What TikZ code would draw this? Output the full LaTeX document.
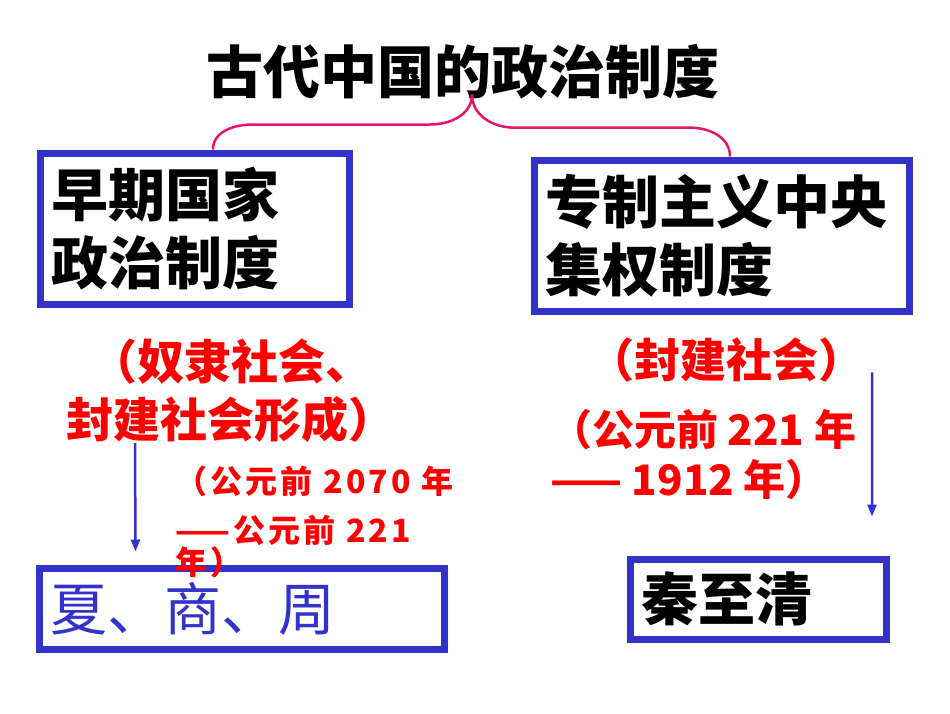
\documentclass[tikz,border=0pt]{standalone}
\usepackage{fontspec}
\setmainfont{Noto Sans CJK SC}
\newfontfamily\datefont{Noto Sans CJK SC}[LetterSpace=10]
\usetikzlibrary{arrows.meta}
\definecolor{boxblue}{RGB}{51,51,204}
\definecolor{bracered}{RGB}{230,20,110}

\begin{document}
\begin{tikzpicture}[x=1pt,y=-1pt,
    frame/.style={draw=boxblue,line width=7pt,inner xsep=11pt,inner ysep=0pt,align=left},
    heading/.style={font=\fontsize{57}{68}\selectfont\bfseries},
    note/.style={text=red,inner sep=0pt},
    flow/.style={draw=boxblue,line width=2.5pt,-{Triangle[length=12pt,width=9pt]}},
    brace/.style={draw=bracered,line width=2.5pt}]
    \useasboundingbox (0,0) rectangle (950,713);
    \node[heading,inner sep=0pt] (title) at (463,72) {古代中国的政治制度};
    \node[frame,heading,text width=287pt,minimum height=151pt] (early) at (194.5,228.5) {早期国家\\政治制度};
    \node[frame,heading,text width=353pt,minimum height=151pt] (central) at (721.5,235.5) {专制主义中央\\集权制度};
    % the brace from the title down to both boxes
    \coordinate (tip) at ([shift={(9,-5)}]title.south);
    \draw[brace] ([xshift=18.5pt]early.north) to[out=90,in=180] ++(40,-25) -- ++(177,0) to[out=0,in=-90] (tip);
    \draw[brace] (tip) to[out=-90,in=180] ++(42,33) -- ++(176,0) to[out=0,in=90] ([xshift=8.5pt]central.north);
    \node[note,align=center,font=\fontsize{47}{58}\selectfont\bfseries] (slave) at (231,391) {（奴隶社会、\\封建社会形成）};
    \node[note,align=left,anchor=north west,font=\fontsize{32}{49}\selectfont\datefont\bfseries] (earlydate) at (175,466) {（公元前 2070 年\\——公元前 221\\[-17pt]年）};
    \node[note,font=\fontsize{46}{58}\selectfont\bfseries] (feudal) at (726,360) {（封建社会）};
    \node[note,align=left,anchor=north west,font=\fontsize{42}{50}\selectfont\bfseries] (latedate) at (550,409) {（公元前 221 年\\—— 1912 年）};
    \node[frame,text=boxblue,font=\fontsize{57}{68}\selectfont,text width=383pt,minimum height=81pt] (dynasty) at (241.5,608.5) {夏、商、周};
    \node[frame,heading,text width=234pt,minimum height=80pt] (qin) at (758,599) {秦至清};
    \draw[flow] ([xshift=-96pt]slave.south) -- ([shift={(-106,-13)}]dynasty.north);
    \draw[flow] ([shift={(8,-10)}]feudal.south east) -- ([shift={(114,-39)}]qin.north);
    % the red note is printed over the box edge
    \node[note,align=left,anchor=north west,font=\fontsize{32}{49}\selectfont\datefont\bfseries] at (earlydate.north west) {\phantom{（公元前 2070 年}\\\phantom{——公元前 221}\\[-17pt]年）};
\end{tikzpicture}
\end{document}
